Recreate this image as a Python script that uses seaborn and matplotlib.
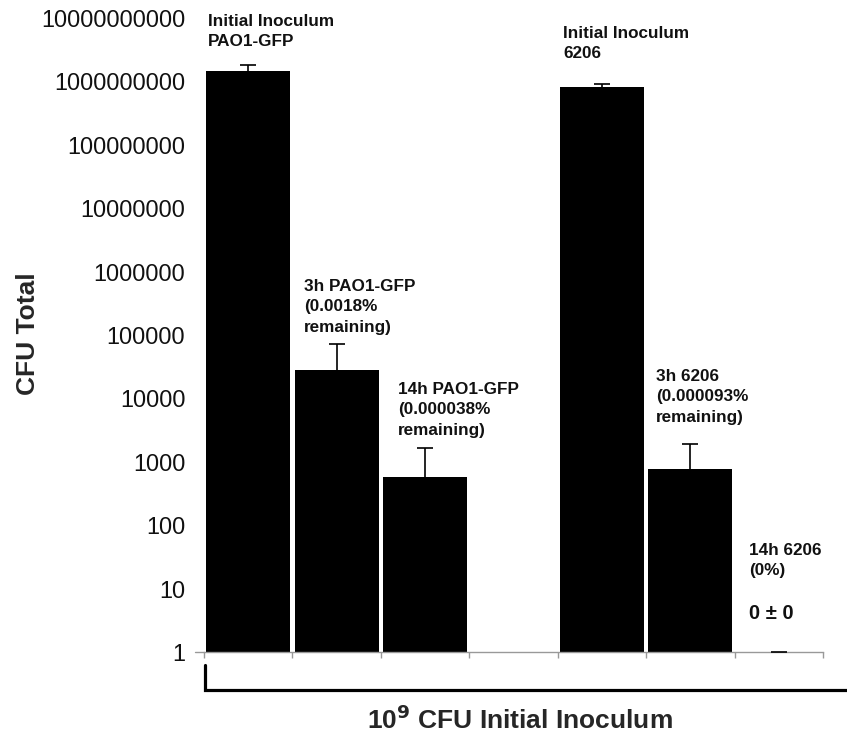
import numpy as np
import pandas as pd
import matplotlib
matplotlib.use("Agg")
import matplotlib.pyplot as plt
import matplotlib.transforms as mtransforms
from matplotlib.lines import Line2D
from matplotlib.ticker import FixedLocator, FuncFormatter, NullLocator
import seaborn as sns

# ---- data ----
categories = ["Init PAO1-GFP", "3h PAO1-GFP", "14h PAO1-GFP", "gap",
              "Init 6206", "3h 6206", "14h 6206"]
bar_categories = ["Init PAO1-GFP", "3h PAO1-GFP", "14h PAO1-GFP",
                  "Init 6206", "3h 6206", "14h 6206"]
cfu_mean = [1.46e9, 2.8e4, 575, 8.2e8, 770, 1]   # 14h 6206 is 0 (drawn at log floor 1)
cfu_upper = [1.8e9, 7.2e4, 1650, 9.1e8, 1910, 1]  # top of error bars
bar_labels = ["Initial Inoculum\nPAO1-GFP",
              "3h PAO1-GFP\n(0.0018%\nremaining)",
              "14h PAO1-GFP\n(0.000038%\nremaining)",
              "Initial Inoculum\n6206",
              "3h 6206\n(0.000093%\nremaining)",
              "14h 6206\n(0%)"]
ytick_values = [1, 10, 100, 1000, 10000, 100000, 1000000, 10000000,
                100000000, 1000000000, 10000000000]

df = pd.DataFrame({"group": bar_categories, "cfu": cfu_mean})

sns.set_style("white")
plt.rcParams["font.family"] = ["Liberation Sans", "DejaVu Sans"]

W, H = 847, 741
fig = plt.figure(figsize=(W / 100, H / 100), dpi=100)
ax = fig.add_axes([204 / W, 1 - 652 / H, (823 - 204) / W, (652 - 18) / H])

sns.barplot(data=df, x="group", y="cfu", order=categories, color="black",
            saturation=1, width=0.95, linewidth=0, errorbar=None, ax=ax)
ax.set_yscale("log", nonpositive="clip")

# error bars (upper only)
xpos = [categories.index(c) for c in bar_categories]
upper_err = np.array(cfu_upper) - np.array(cfu_mean)
eb = ax.errorbar(xpos, cfu_mean, yerr=[np.zeros(len(xpos)), upper_err],
                 fmt="none", ecolor="black", elinewidth=1.2, capsize=5.5,
                 capthick=1.2, zorder=5)
eb[1][0].set_visible(False)  # hide lower caps

ax.set_ylim(1, 1e10)
ax.set_xlim(-0.5, len(categories) - 0.5)

ax.yaxis.set_major_locator(FixedLocator(ytick_values))
ax.yaxis.set_minor_locator(NullLocator())
ax.yaxis.set_major_formatter(FuncFormatter(lambda v, p: f"{int(round(v))}"))
ax.tick_params(axis="y", which="both", left=False, length=0, pad=13.5,
               labelsize=16.8, labelcolor="#111111")

# x: no labels, ticks at slot boundaries
ax.set_xticks([])
ax.set_xticks(np.arange(-0.5, len(categories)), minor=True)
ax.tick_params(axis="x", which="minor", bottom=True, length=4, width=1,
               color="#999999", direction="out")
ax.set_xlabel("")
ax.set_ylabel("")

for s in ["top", "right", "left"]:
    ax.spines[s].set_visible(False)
ax.spines["bottom"].set_color("#999999")
ax.spines["bottom"].set_linewidth(1)
# small tick at y=1 extending left
ax.plot([-0.6, -0.5], [1, 1], color="#999999", lw=1, clip_on=False)

# annotations
trans = mtransforms.blended_transform_factory(ax.transData, ax.transAxes)
label_tops_px = [14, 279, 382, 26, 369, 543]
label_dx = [0.045, 0.13, 0.19, 0.06, 0.11, 0.16]
for i, (c, lab) in enumerate(zip(bar_categories, bar_labels)):
    x = categories.index(c) - 0.5 + label_dx[i]
    y = (652 - label_tops_px[i]) / (652 - 18)
    ax.text(x, y, lab, transform=trans, ha="left", va="top",
            fontsize=12.3, fontweight="bold", linespacing=1.45,
            color="#111111", clip_on=False)
ax.text(categories.index("14h 6206") - 0.5 + 0.16, (652 - 604) / 634,
        "0 \u00b1 0", transform=trans, ha="left", va="top",
        fontsize=14.5, fontweight="bold", color="#111111")

# y label
fig.text(28 / W, 1 - 334 / H, "CFU Total", rotation=90, ha="center",
         va="center", fontsize=19, fontweight="bold")

# bracket
fig.add_artist(Line2D([205 / W, 205 / W, 1.0], [1 - 665 / H, 1 - 690 / H, 1 - 690 / H],
                      color="black", lw=2.3, solid_joinstyle="miter"))

# x label
fig.text(520 / W, 1 - 720 / H, r"10$^{\mathbf{9}}$ CFU Initial Inoculum",
         ha="center", va="center", fontsize=19, fontweight="bold")

fig.savefig("out.png", dpi=100)
